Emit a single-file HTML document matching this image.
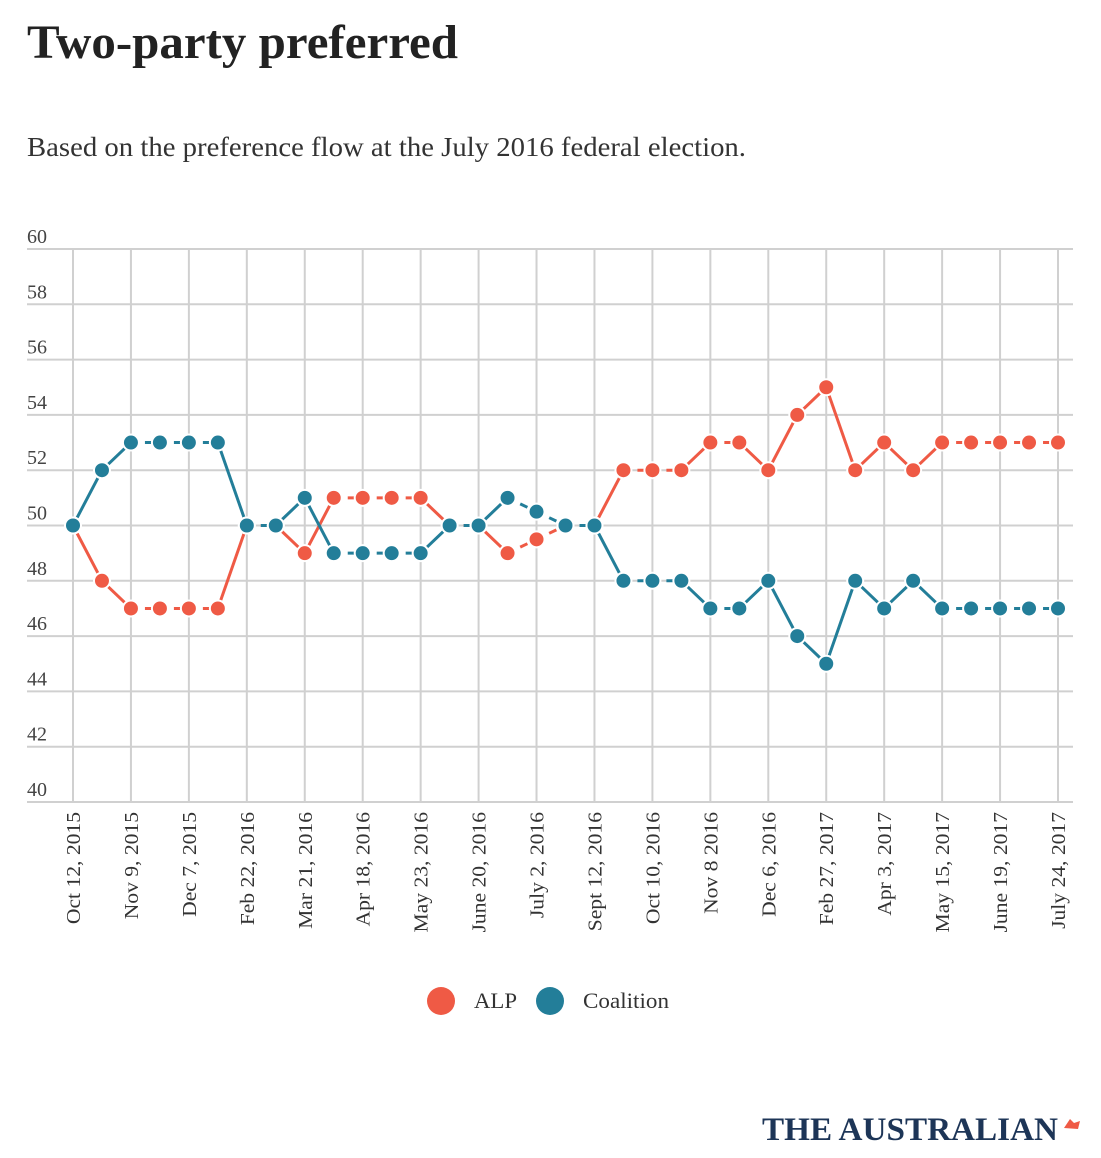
<!DOCTYPE html>
<html><head><meta charset="utf-8"><style>
body{margin:0;background:#fff;width:1101px;height:1153px;overflow:hidden;font-family:"Liberation Serif",serif;}
</style></head><body>
<svg width="1101" height="1153" xmlns="http://www.w3.org/2000/svg" font-family="Liberation Serif, serif">
<text x="27" y="58" font-size="48" font-weight="bold" fill="#222" textLength="431" lengthAdjust="spacingAndGlyphs">Two-party preferred</text>
<text x="27" y="156" font-size="27" fill="#333" textLength="719" lengthAdjust="spacingAndGlyphs">Based on the preference flow at the July 2016 federal election.</text>
<g id="grid"></g><g id="lines"></g><g id="pts"></g><g id="xl"></g>
<g>
<circle cx="441" cy="1001" r="14" fill="#ef5a45"/>
<text x="474" y="1008" font-size="22" fill="#333" textLength="43" lengthAdjust="spacingAndGlyphs">ALP</text>
<circle cx="550" cy="1001" r="14" fill="#237e99"/>
<text x="583" y="1008" font-size="22" fill="#333" textLength="86" lengthAdjust="spacingAndGlyphs">Coalition</text>
</g>
<text x="762" y="1140" font-size="33" font-weight="bold" fill="#1d3557" textLength="296" lengthAdjust="spacingAndGlyphs">THE AUSTRALIAN</text>
<path d="M1064 1128 l6 -9 l4 4 l6 -2 l-2 8 z" fill="#ef5a45"/>
</svg>
<script>
const tickLabels=["Oct 12, 2015","Nov 9, 2015","Dec 7, 2015","Feb 22, 2016","Mar 21, 2016","Apr 18, 2016","May 23, 2016","June 20, 2016","July 2, 2016","Sept 12, 2016","Oct 10, 2016","Nov 8 2016","Dec 6, 2016","Feb 27, 2017","Apr 3, 2017","May 15, 2017","June 19, 2017","July 24, 2017"];
const yTicks=[40,42,44,46,48,50,52,54,56,58,60];
const alp=[50,48,47,47,47,47,50,50,49,51,51,51,51,50,50,49,49.5,50,50,52,52,52,53,53,52,54,55,52,53,52,53,53,53,53,53];
const coalition=[50,52,53,53,53,53,50,50,51,49,49,49,49,50,50,51,50.5,50,50,48,48,48,47,47,48,46,45,48,47,48,47,47,47,47,47];
const NS="http://www.w3.org/2000/svg";
const x=i=>73+i*(1058-73)/(alp.length-1);
const y=v=>802-(v-40)*(802-249)/20;
function mk(t,a,p){const e=document.createElementNS(NS,t);for(const k in a)e.setAttribute(k,a[k]);p.appendChild(e);return e;}
const grid=document.getElementById('grid'),lines=document.getElementById('lines'),pts=document.getElementById('pts'),xl=document.getElementById('xl');
yTicks.forEach(v=>{
 const l=mk('line',{x1:27,x2:1073,y1:y(v),y2:y(v),stroke:'#d0d0d0','stroke-width':2},grid);
 
 
 const t=mk('text',{x:27,y:y(v)-6,'font-size':20,fill:'#444'},grid);t.textContent=v;
 
 
});
tickLabels.forEach((s,k)=>{
 const xx=x(k*2);
 const l=mk('line',{x1:xx,x2:xx,y1:249,y2:802,stroke:'#d0d0d0','stroke-width':2},grid);
 
 
 const t=mk('text',{transform:`translate(${xx+7},812) rotate(-90) scale(1.08,1)`,'text-anchor':'end','font-size':20,fill:'#333'},xl);t.textContent=s;
 
 
});
function series(d,c,n){
 for(let i=0;i<d.length-1;i++){
  const dash=Math.abs(d[i+1]-d[i])<1;
  const l=mk('line',{x1:x(i),y1:y(d[i]),x2:x(i+1),y2:y(d[i+1]),stroke:c,'stroke-width':3},lines);
  if(dash)l.setAttribute('stroke-dasharray','8 6');
  
  
 }
 d.forEach((v,i)=>{
  const p=mk('circle',{cx:x(i),cy:y(v),r:8,fill:c,stroke:'#fff','stroke-width':2},pts);
  
  
 });
}
series(alp,'#ef5a45','alp');
series(coalition,'#237e99','coalition');
</script>
</body></html>
